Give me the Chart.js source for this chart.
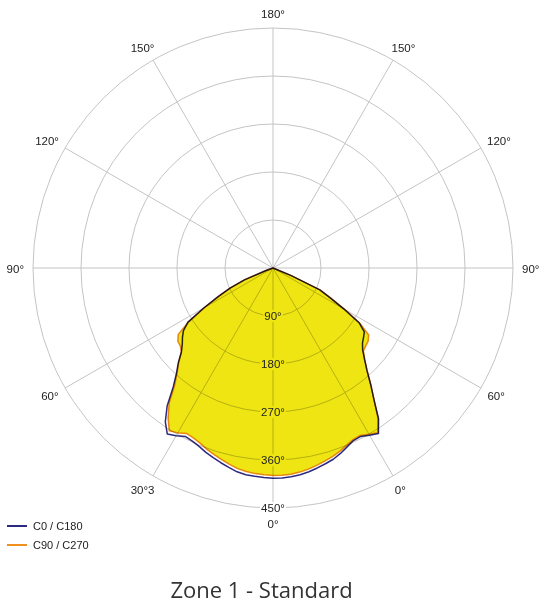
<!DOCTYPE html>
<html>
<head>
<meta charset="utf-8">
<script src="https://cdn.jsdelivr.net/npm/chart.js@4.4.1/dist/chart.umd.min.js"></script>
<style>
  body { margin: 0; background: #fff; }
  #wrap { position: relative; width: 541px; height: 605px; }
  #grafica { position: absolute; left: 0; top: 0; }
  .leyenda { position: absolute; left: 7px; height: 14px; line-height: 14px; font: 11px "Liberation Sans", Arial, sans-serif; color: #222; white-space: nowrap; }
  .leyenda .linea { display: inline-block; width: 20px; height: 2px; vertical-align: middle; margin-right: 6px; position: relative; top: -1px; }
  #titulo { position: absolute; left: 0; width: 523px; top: 574px; line-height: 30px; text-align: center; font: 22px "Open Sans", sans-serif; color: #333; }
</style>
</head>
<body>
<div id="wrap">
  <canvas id="grafica" width="541" height="605"></canvas>
  <div class="leyenda" id="ley0" style="top:520px"></div>
  <div class="leyenda" id="ley1" style="top:539px"></div>
  <div id="titulo">Zone 1 - Standard</div>
</div>
<script>
// angulos gamma de cada semiplano (0 = abajo, 180 = arriba)
const GAMMA = [0, 2.5, 5, 7.5, 10, 12.5, 15, 17.5, 20, 22.5, 25, 27.5, 30, 32.5, 35, 37.5,
  40, 42.5, 45, 47.5, 50, 52.5, 55, 57.5, 60, 62.5, 65, 67.5, 70, 72.5, 75, 77.5, 80, 82.5,
  85, 87.5, 90, 92.5, 95, 97.5, 100, 102.5, 105, 107.5, 110, 112.5, 115, 117.5, 120, 122.5,
  125, 127.5, 130, 132.5, 135, 137.5, 140, 142.5, 145, 147.5, 150, 152.5, 155, 157.5, 160,
  162.5, 165, 167.5, 170, 172.5, 175, 177.5, 180];

// cd/klm por angulo gamma; C0 y C90 a la derecha, C180 y C270 a la izquierda
const C0 = [394, 394, 393, 391, 388, 384, 380, 376, 370, 363, 357, 356, 362, 368, 345, 311,
  285, 261, 243, 228, 219, 214, 209, 192, 153, 121, 97, 36, 0, 0, 0, 0, 0, 0,
  0, 0, 0, 0, 0, 0, 0, 0, 0, 0, 0, 0, 0, 0, 0, 0,
  0, 0, 0, 0, 0, 0, 0, 0, 0, 0, 0, 0, 0, 0, 0,
  0, 0, 0, 0, 0, 0, 0, 0];
const C180 = [394, 393, 392, 391, 388, 383, 378, 373, 368, 362, 358, 356, 363, 369, 352, 326,
  291, 268, 251, 233, 222, 214, 205, 189, 150, 116, 89, 58, 14, 0, 0, 0, 0, 0,
  0, 0, 0, 0, 0, 0, 0, 0, 0, 0, 0, 0, 0, 0, 0, 0,
  0, 0, 0, 0, 0, 0, 0, 0, 0, 0, 0, 0, 0, 0, 0,
  0, 0, 0, 0, 0, 0, 0, 0];
const C90 = [389, 389, 388, 386, 383, 379, 375, 371, 366, 360, 355, 354, 360, 366, 343, 311,
  285, 261, 243, 230, 227, 225, 219, 193, 155, 122, 97, 36, 0, 0, 0, 0, 0, 0,
  0, 0, 0, 0, 0, 0, 0, 0, 0, 0, 0, 0, 0, 0, 0, 0,
  0, 0, 0, 0, 0, 0, 0, 0, 0, 0, 0, 0, 0, 0, 0,
  0, 0, 0, 0, 0, 0, 0, 0];
const C270 = [389, 388, 387, 385, 382, 377, 372, 367, 362, 356, 352, 350, 357, 362, 343, 320,
  287, 266, 250, 233, 227, 225, 217, 187, 148, 114, 87, 57, 12, 0, 0, 0, 0, 0,
  0, 0, 0, 0, 0, 0, 0, 0, 0, 0, 0, 0, 0, 0, 0, 0,
  0, 0, 0, 0, 0, 0, 0, 0, 0, 0, 0, 0, 0, 0, 0,
  0, 0, 0, 0, 0, 0, 0, 0];

const SERIES = ['C0 / C180', 'C90 / C270'];
const TICKS = [90, 180, 270, 360, 450];
// etiquetas cada 30 grados, en sentido horario desde arriba
const ETIQUETAS_ANGULO = ['180°', '150°', '120°', '90°', '60°', '0°', '0°', '30°3', '60°', '90°', '120°', '150°'];

const AZUL = '#2b2a80';
const NARANJA = '#f0901e';
const AMARILLO = '#eee512';
const REJILLA = '#c4c4c4';

// vuelta completa: derecha de arriba (180) a abajo (0), luego izquierda de abajo a arriba
const armarVuelta = (derecha, izquierda) => {
  const vuelta = [];
  for (let i = GAMMA.length - 1; i >= 0; i--) vuelta.push(derecha[i]);
  for (let i = 1; i < GAMMA.length - 1; i++) vuelta.push(izquierda[i]);
  return vuelta;
};

const etiquetas = [];
for (let i = GAMMA.length - 1; i >= 0; i--) etiquetas.push('R' + GAMMA[i]);
for (let i = 1; i < GAMMA.length - 1; i++) etiquetas.push('L' + GAMMA[i]);

const paso = etiquetas.length / ETIQUETAS_ANGULO.length;

const pluginEtiquetas = {
  id: 'etiquetas',
  beforeDatasetsDraw(chart) {
    chart.ctx.save();
    chart.ctx.globalCompositeOperation = 'multiply';
  },
  afterDatasetsDraw(chart) {
    const ctx = chart.ctx;
    ctx.restore();
    const r = chart.scales.r;
    ctx.save();
    ctx.font = '11.5px "Liberation Sans", Arial, sans-serif';
    ctx.textAlign = 'center';
    ctx.textBaseline = 'middle';

    TICKS.forEach(v => {
      const y = r.yCenter + r.getDistanceFromCenterForValue(v);
      const txt = v + '°';
      const w = ctx.measureText(txt).width;
      ctx.fillStyle = v < C90[0] ? AMARILLO : '#fff';
      ctx.fillRect(r.xCenter - w / 2 - 1, y - 6, w + 2, 12);
      ctx.fillStyle = '#222';
      ctx.fillText(txt, r.xCenter, y + 0.5);
    });

    ETIQUETAS_ANGULO.forEach((txt, k) => {
      const a = r.getIndexAngle(k * paso);
      const s = Math.sin(a), c = Math.cos(a);
      const w = ctx.measureText(txt).width;
      const x = r.xCenter + (r.drawingArea + 9) * s + (w / 2) * s;
      const y = r.yCenter - (r.drawingArea + 9) * c - 6 * c + 1.5;
      ctx.fillText(txt, x, y);
    });
    ctx.restore();
  }
};

new Chart(document.getElementById('grafica'), {
  type: 'radar',
  data: {
    labels: etiquetas,
    datasets: [
      {
        label: SERIES[0],
        data: armarVuelta(C0, C180),
        borderColor: AZUL,
        borderWidth: 1.5,
        fill: false,
        pointRadius: 0
      },
      {
        label: SERIES[1],
        data: armarVuelta(C90, C270),
        borderColor: NARANJA,
        backgroundColor: AMARILLO,
        borderWidth: 1.5,
        fill: 'origin',
        pointRadius: 0
      }
    ]
  },
  options: {
    responsive: false,
    animation: false,
    layout: { padding: { left: 33, right: 28, top: 28, bottom: 97 } },
    elements: { line: { tension: 0, borderJoinStyle: 'round' } },
    plugins: { legend: { display: false }, tooltip: { enabled: false } },
    scales: {
      r: {
        min: 0,
        max: 450,
        ticks: { stepSize: 90, display: false },
        pointLabels: { display: false },
        grid: { circular: true, color: REJILLA, lineWidth: 1 },
        angleLines: {
          color: REJILLA,
          lineWidth: (c) => (c.index % paso === 0 ? 1 : 0)
        }
      }
    }
  },
  plugins: [pluginEtiquetas]
});

[AZUL, NARANJA].forEach((color, i) => {
  const el = document.getElementById('ley' + i);
  el.innerHTML = '<span class="linea" style="background:' + color + '"></span>' + SERIES[i];
});
</script>
</body>
</html>
